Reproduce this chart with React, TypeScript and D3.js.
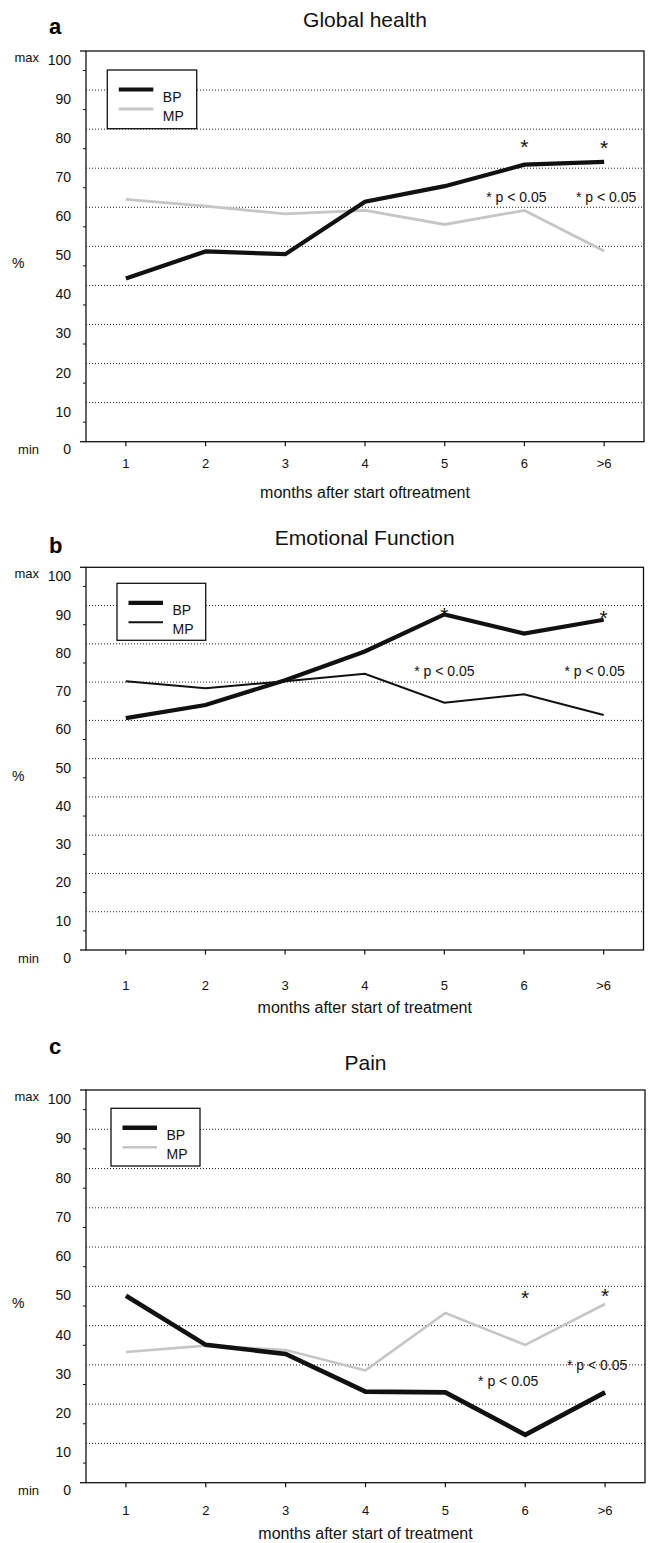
import * as d3 from "d3";

// categories and values (% scale, 0 = min, 100 = max)
const months = ["1", "2", "3", "4", "5", "6", ">6"];
const yTicks = [0, 10, 20, 30, 40, 50, 60, 70, 80, 90, 100];
const gridValues = [10, 20, 30, 40, 50, 60, 70, 80, 90];
const minorTicks = [5, 15, 25, 35, 45, 55, 65, 75, 85, 95];

const globalBP = [41.8, 48.7, 48.0, 61.4, 65.4, 70.9, 71.6];
const globalMP = [62.0, 60.3, 58.3, 59.2, 55.6, 59.2, 48.8];
const emotionalBP = [60.6, 64.0, 70.5, 78.0, 87.7, 82.7, 86.3];
const emotionalMP = [70.2, 68.4, 70.2, 72.2, 64.6, 66.8, 61.4];
const painBP = [47.6, 35.1, 32.8, 23.2, 23.0, 12.2, 23.0];
const painMP = [33.3, 34.9, 33.8, 28.6, 43.2, 35.1, 45.5];

const font = "'Liberation Sans', Arial, Helvetica, sans-serif";
const GREY = "#c6c6c6";
const INK = "#111";

type Series = { name: string; values: number[]; color: string; width: number };
type Note = { cat: string; dx: number; v: number };

type PanelCfg = {
  letter: string;
  title: string;
  xTitle: string;
  top: number;
  bottom: number;
  left: number;
  right: number;
  letterY: number;
  titleY: number;
  tickLabelDy: number;
  zeroDy: number;
  xTitleDy: number;
  series: Series[];
  legend: { x: number; y: number; w: number; h: number };
  stars: Note[];
  pNotes: Note[];
};

const panels: PanelCfg[] = [
  {
    letter: "a",
    title: "Global health",
    xTitle: "months after start oftreatment",
    top: 51, bottom: 441.7, left: 86, right: 644,
    letterY: 33.5, titleY: 27,
    tickLabelDy: 26, zeroDy: 12, xTitleDy: 56,
    series: [
      { name: "BP", values: globalBP, color: INK, width: 4.2 },
      { name: "MP", values: globalMP, color: GREY, width: 2.8 },
    ],
    legend: { x: 107.3, y: 70, w: 89.4, h: 58.7 },
    stars: [{ cat: "6", dx: 0, v: 76.7 }, { cat: ">6", dx: 0, v: 76.4 }],
    pNotes: [{ cat: "6", dx: -8, v: 62.6 }, { cat: ">6", dx: 2, v: 62.6 }],
  },
  {
    letter: "b",
    title: "Emotional Function",
    xTitle: "months after start of treatment",
    top: 567.3, bottom: 950, left: 86, right: 643.5,
    letterY: 553, titleY: 545,
    tickLabelDy: 40, zeroDy: 13, xTitleDy: 63,
    series: [
      { name: "BP", values: emotionalBP, color: INK, width: 4.2 },
      { name: "MP", values: emotionalMP, color: INK, width: 2 },
    ],
    legend: { x: 117, y: 583.3, w: 88.7, h: 57 },
    stars: [{ cat: "5", dx: 0, v: 88.8 }, { cat: ">6", dx: 0, v: 88.0 }],
    pNotes: [{ cat: "5", dx: 0, v: 72.8 }, { cat: ">6", dx: -9, v: 72.8 }],
  },
  {
    letter: "c",
    title: "Pain",
    xTitle: "months after start of treatment",
    top: 1090, bottom: 1482.7, left: 86, right: 645,
    letterY: 1053.5, titleY: 1070,
    tickLabelDy: 32, zeroDy: 12, xTitleDy: 56,
    series: [
      { name: "BP", values: painBP, color: INK, width: 4.6 },
      { name: "MP", values: painMP, color: GREY, width: 2.6 },
    ],
    legend: { x: 111, y: 1108.3, w: 89, h: 57.7 },
    stars: [{ cat: "6", dx: 0, v: 48.3 }, { cat: ">6", dx: 0, v: 48.9 }],
    pNotes: [{ cat: "6", dx: -17, v: 25.8 }, { cat: ">6", dx: -8, v: 30.0 }],
  },
];

function Panel({ cfg }: { cfg: PanelCfg }) {
  const x = d3.scalePoint<string>().domain(months).range([cfg.left, cfg.right]).padding(0.5);
  const y = d3.scaleLinear().domain([0, 100]).range([cfg.bottom, cfg.top]);
  const line = d3
    .line<number>()
    .x((_, i) => x(months[i]) as number)
    .y((d) => y(d));
  const midX = (cfg.left + cfg.right) / 2;
  const lg = cfg.legend;

  return (
    <g>
      <text x={49} y={cfg.letterY} fontSize={22} fontWeight="bold" fill="#000">
        {cfg.letter}
      </text>
      <text x={midX} y={cfg.titleY} fontSize={21} textAnchor="middle" fill="#111">
        {cfg.title}
      </text>

      {/* dotted grid */}
      {gridValues.map((v) => (
        <line
          key={"g" + v}
          x1={cfg.left}
          x2={cfg.right}
          y1={y(v)}
          y2={y(v)}
          stroke="#222"
          strokeWidth={1}
          strokeDasharray="1 2"
        />
      ))}

      {/* y axis ticks and labels */}
      {minorTicks.map((v) => (
        <line key={"m" + v} x1={cfg.left - 3} x2={cfg.left} y1={y(v)} y2={y(v)} stroke="#111" />
      ))}
      {[0, 100].map((v) => (
        <line key={"M" + v} x1={cfg.left - 6} x2={cfg.left} y1={y(v)} y2={y(v)} stroke="#111" strokeWidth={1.3} />
      ))}
      {yTicks.map((v) => (
        <text key={"yl" + v} x={71} y={y(v) + (v === 0 ? cfg.zeroDy : 14)} fontSize={14} textAnchor="end" fill="#111">
          {v}
        </text>
      ))}
      <text x={39} y={y(100) + 11} fontSize={13} textAnchor="end" fill="#111">max</text>
      <text x={39} y={y(0) + cfg.zeroDy} fontSize={13} textAnchor="end" fill="#111">min</text>
      <text x={12} y={(cfg.top + cfg.bottom) / 2 + 22} fontSize={14} fill="#111">%</text>

      {/* frame */}
      <rect
        x={cfg.left}
        y={cfg.top}
        width={cfg.right - cfg.left}
        height={cfg.bottom - cfg.top}
        fill="none"
        stroke="#111"
        strokeWidth={1.3}
      />

      {/* x axis */}
      {months.map((m) => (
        <g key={"x" + m}>
          <line x1={x(m)} x2={x(m)} y1={cfg.bottom} y2={cfg.bottom + 4.5} stroke="#111" strokeWidth={1.2} />
          <text x={x(m)} y={cfg.bottom + cfg.tickLabelDy} fontSize={13} textAnchor="middle" fill="#111">
            {m}
          </text>
        </g>
      ))}
      <text x={midX} y={cfg.bottom + cfg.xTitleDy} fontSize={16} textAnchor="middle" fill="#111">
        {cfg.xTitle}
      </text>

      {/* series: grey/thin first, bold BP on top */}
      {[...cfg.series].reverse().map((s) => (
        <path
          key={s.name}
          d={line(s.values) as string}
          fill="none"
          stroke={s.color}
          strokeWidth={s.width}
          strokeLinejoin="miter"
        />
      ))}

      {/* significance marks */}
      {cfg.stars.map((s, i) => (
        <text key={"s" + i} x={(x(s.cat) as number) + s.dx} y={y(s.v) + 12} fontSize={21} textAnchor="middle" fill="#111">
          *
        </text>
      ))}
      {cfg.pNotes.map((p, i) => (
        <text key={"p" + i} x={(x(p.cat) as number) + p.dx} y={y(p.v) + 5} fontSize={14} textAnchor="middle" fill="#111">
          * p &lt; 0.05
        </text>
      ))}

      {/* legend */}
      <rect x={lg.x} y={lg.y} width={lg.w} height={lg.h} fill="#fff" stroke="#111" strokeWidth={1.3} />
      {cfg.series.map((s, i) => (
        <g key={"l" + s.name}>
          <line
            x1={lg.x + 11.5}
            x2={lg.x + 46}
            y1={lg.y + 19.5 + i * 19.5}
            y2={lg.y + 19.5 + i * 19.5}
            stroke={s.color}
            strokeWidth={s.width}
          />
          <text x={lg.x + 55.5} y={lg.y + 31.8 + i * 19.3} fontSize={14} fill="#111">
            {s.name}
          </text>
        </g>
      ))}
    </g>
  );
}

export default function App() {
  return (
    <svg
      width={650}
      height={1543}
      style={{ position: "absolute", left: 0, top: 0, background: "#fff", fontFamily: font }}
    >
      <rect width={650} height={1543} fill="#fff" />
      {panels.map((p) => (
        <Panel key={p.letter} cfg={p} />
      ))}
    </svg>
  );
}
